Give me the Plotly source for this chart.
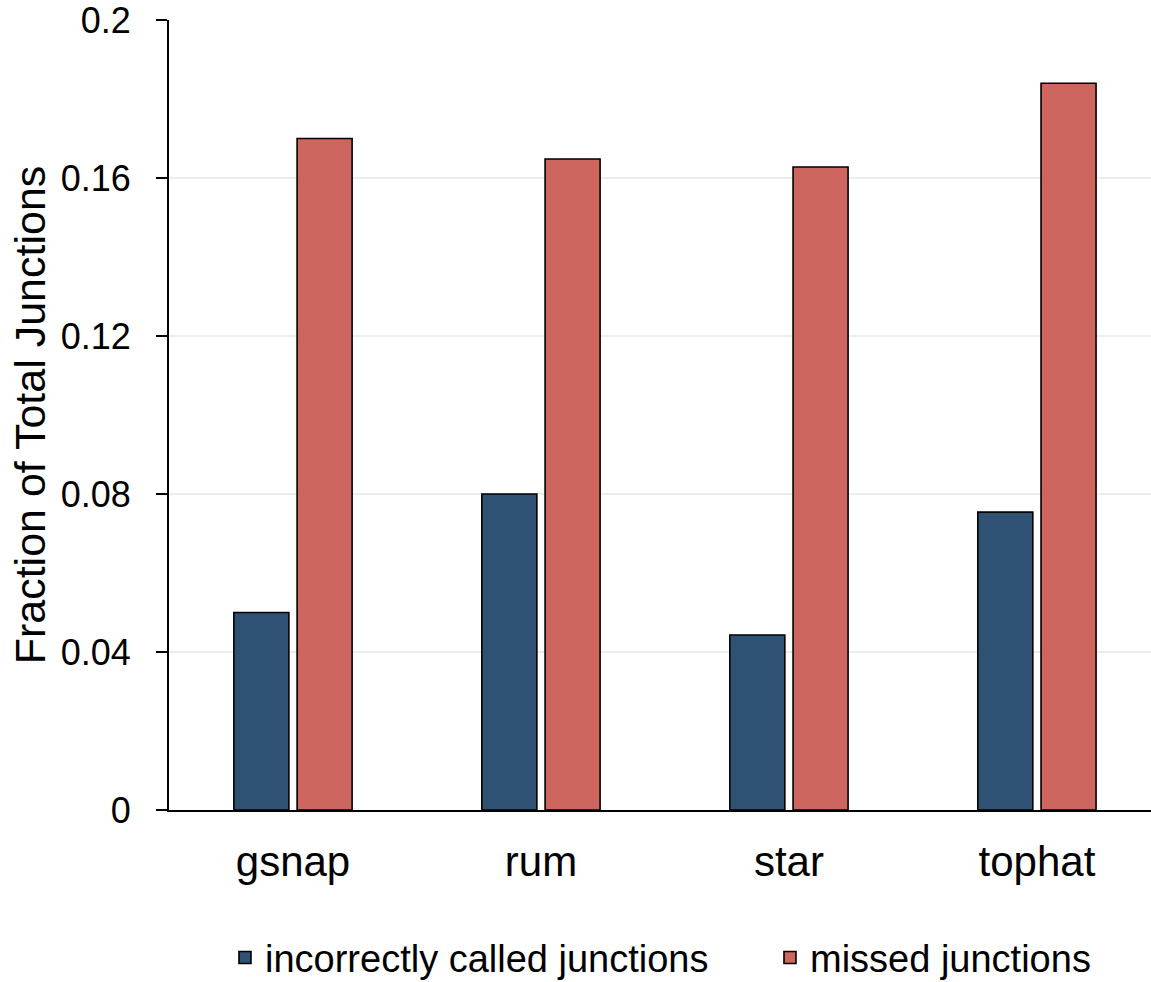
import plotly.graph_objects as go

# Junction-calling error rates per aligner
aligners = ["gsnap", "rum", "star", "tophat"]
incorrect_called = [0.050, 0.080, 0.0443, 0.0754]
missed = [0.170, 0.1648, 0.1628, 0.184]

y_ticks = [0, 0.04, 0.08, 0.12, 0.16, 0.2]
y_tick_labels = ["0", "0.04", "0.08", "0.12", "0.16", "0.2"]

FONT = "Liberation Sans, Arial, Helvetica, sans-serif"

fig = go.Figure()
fig.add_trace(go.Bar(
    x=aligners, y=incorrect_called, name="incorrectly called junctions",
    marker=dict(color="#2F5173", line=dict(color="black", width=1.6)),
    legend="legend",
))
fig.add_trace(go.Bar(
    x=aligners, y=missed, name="missed junctions",
    marker=dict(color="#CC665E", line=dict(color="black", width=1.6)),
    legend="legend2",
))

legend_common = dict(
    orientation="h", xanchor="left", y=-0.187, yanchor="middle",
    font=dict(size=38, family=FONT), itemwidth=30,
    bgcolor="rgba(0,0,0,0)",
)

fig.update_layout(
    width=1151, height=982,
    margin=dict(l=169, r=0, t=20, b=172, autoexpand=False),
    paper_bgcolor="white", plot_bgcolor="white",
    font=dict(family=FONT, color="black"),
    barmode="group", bargap=0.49, bargroupgap=0.13,
    showlegend=True,
    legend=dict(x=0.057, **legend_common),
    legend2=dict(x=0.612, **legend_common),
    xaxis=dict(
        range=[-0.5, 3.46], showgrid=False, zeroline=False,
        showline=True, linecolor="black", linewidth=2,
        ticks="", tickfont=dict(size=42), ticklabelstandoff=14,
    ),
    yaxis=dict(
        range=[0, 0.2], tickvals=y_ticks, ticktext=y_tick_labels,
        showgrid=True, gridcolor="#ededed", gridwidth=2,
        zeroline=False, showline=True, linecolor="black", linewidth=2,
        ticks="outside", ticklen=11, tickwidth=2, tickcolor="black",
        tickfont=dict(size=36), ticklabelstandoff=18, ticklabeloverflow="allow",
        title=dict(text="Fraction of Total Junctions", font=dict(size=43), standoff=2),
    ),
)

fig.write_html("out.html")
